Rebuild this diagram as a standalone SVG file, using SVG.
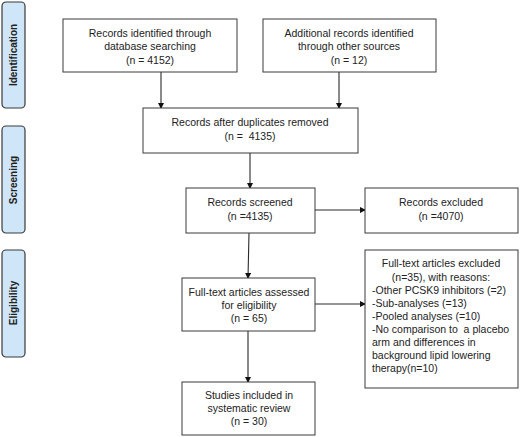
<svg xmlns="http://www.w3.org/2000/svg" width="520" height="437" viewBox="0 0 520 437">
<style>
.box{fill:#ffffff;stroke:#3a3a3a;stroke-width:1}
.side{fill:#cfe6f8;stroke:#3a3a3a;stroke-width:1.2}
.t{font-family:"Liberation Sans",Arial,sans-serif;font-size:10.5px;fill:#222;text-anchor:middle;white-space:pre}
.l{text-anchor:start}
.s{font-family:"Liberation Sans",Arial,sans-serif;font-size:10px;font-weight:bold;fill:#222;text-anchor:middle}
.c{stroke:#2a2a2a;stroke-width:1.1;fill:none;marker-end:url(#ah)}
</style>
<defs>
<marker id="ah" markerWidth="6" markerHeight="6" refX="5" refY="3" orient="auto" markerUnits="userSpaceOnUse">
<path d="M0,0 L6,3 L0,6 Z" fill="#111"/>
</marker>
</defs>
<rect x="0" y="0" width="520" height="437" fill="#ffffff"/>
<g id="stage-identification">
<rect class="side" x="2" y="2" width="23" height="106" rx="4"/>
<text class="s" transform="translate(17,55) rotate(-90)">Identification</text>
</g>
<g id="stage-screening">
<rect class="side" x="2" y="126" width="23" height="107" rx="4"/>
<text class="s" transform="translate(17,180) rotate(-90)">Screening</text>
</g>
<g id="stage-eligibility">
<rect class="side" x="2" y="250" width="23" height="107" rx="4"/>
<text class="s" transform="translate(17,303) rotate(-90)">Eligibility</text>
</g>
<g id="connectors">
<line class="c" x1="161" y1="72" x2="161" y2="108"/>
<line class="c" x1="339" y1="72" x2="339" y2="108"/>
<line class="c" x1="250" y1="153" x2="250" y2="188"/>
<line class="c" x1="315" y1="210" x2="365" y2="210"/>
<line class="c" x1="249" y1="233" x2="248" y2="278"/>
<line class="c" x1="315" y1="304" x2="365" y2="304"/>
<line class="c" x1="248" y1="331" x2="248" y2="382"/>
</g>
<g id="n1">
<rect class="box" x="63" y="19" width="174" height="53"/>
<text class="t" x="150" y="37">Records identified through</text>
<text class="t" x="150" y="50">database searching</text>
<text class="t" x="150" y="64">(n = 4152)</text>
</g>
<g id="n2">
<rect class="box" x="263" y="19" width="173" height="53"/>
<text class="t" x="349" y="37">Additional records identified</text>
<text class="t" x="349" y="50">through other sources</text>
<text class="t" x="349" y="64">(n = 12)</text>
</g>
<g id="n3">
<rect class="box" x="143" y="108" width="215" height="45"/>
<text class="t" x="250" y="126">Records after duplicates removed</text>
<text class="t" x="250" y="140" xml:space="preserve">(n =  4135)</text>
</g>
<g id="n4">
<rect class="box" x="186" y="188" width="129" height="45"/>
<text class="t" x="250" y="206">Records screened</text>
<text class="t" x="250" y="220">(n =4135)</text>
</g>
<g id="n5">
<rect class="box" x="365" y="188" width="153" height="45"/>
<text class="t" x="441" y="206">Records excluded</text>
<text class="t" x="441" y="220">(n =4070)</text>
</g>
<g id="n6">
<rect class="box" x="182" y="278" width="133" height="53"/>
<text class="t" x="249" y="296">Full-text articles assessed</text>
<text class="t" x="249" y="309">for eligibility</text>
<text class="t" x="249" y="322">(n = 65)</text>
</g>
<g id="n7">
<rect class="box" x="365" y="250" width="153" height="138"/>
<text class="t" x="441" y="267">Full-text articles excluded</text>
<text class="t" x="441" y="281">(n=35), with reasons:</text>
<text class="t l" x="372" y="294">-Other PCSK9 inhibitors (=2)</text>
<text class="t l" x="372" y="307">-Sub-analyses (=13)</text>
<text class="t l" x="372" y="320">-Pooled analyses (=10)</text>
<text class="t l" x="372" y="333" xml:space="preserve">-No comparison to  a placebo</text>
<text class="t l" x="372" y="346">arm and differences in</text>
<text class="t l" x="372" y="359">background lipid lowering</text>
<text class="t l" x="372" y="372">therapy(n=10)</text>
</g>
<g id="n8">
<rect class="box" x="182" y="382" width="133" height="53"/>
<text class="t" x="249" y="399">Studies included in</text>
<text class="t" x="249" y="412">systematic review</text>
<text class="t" x="249" y="425">(n = 30)</text>
</g>
</svg>
